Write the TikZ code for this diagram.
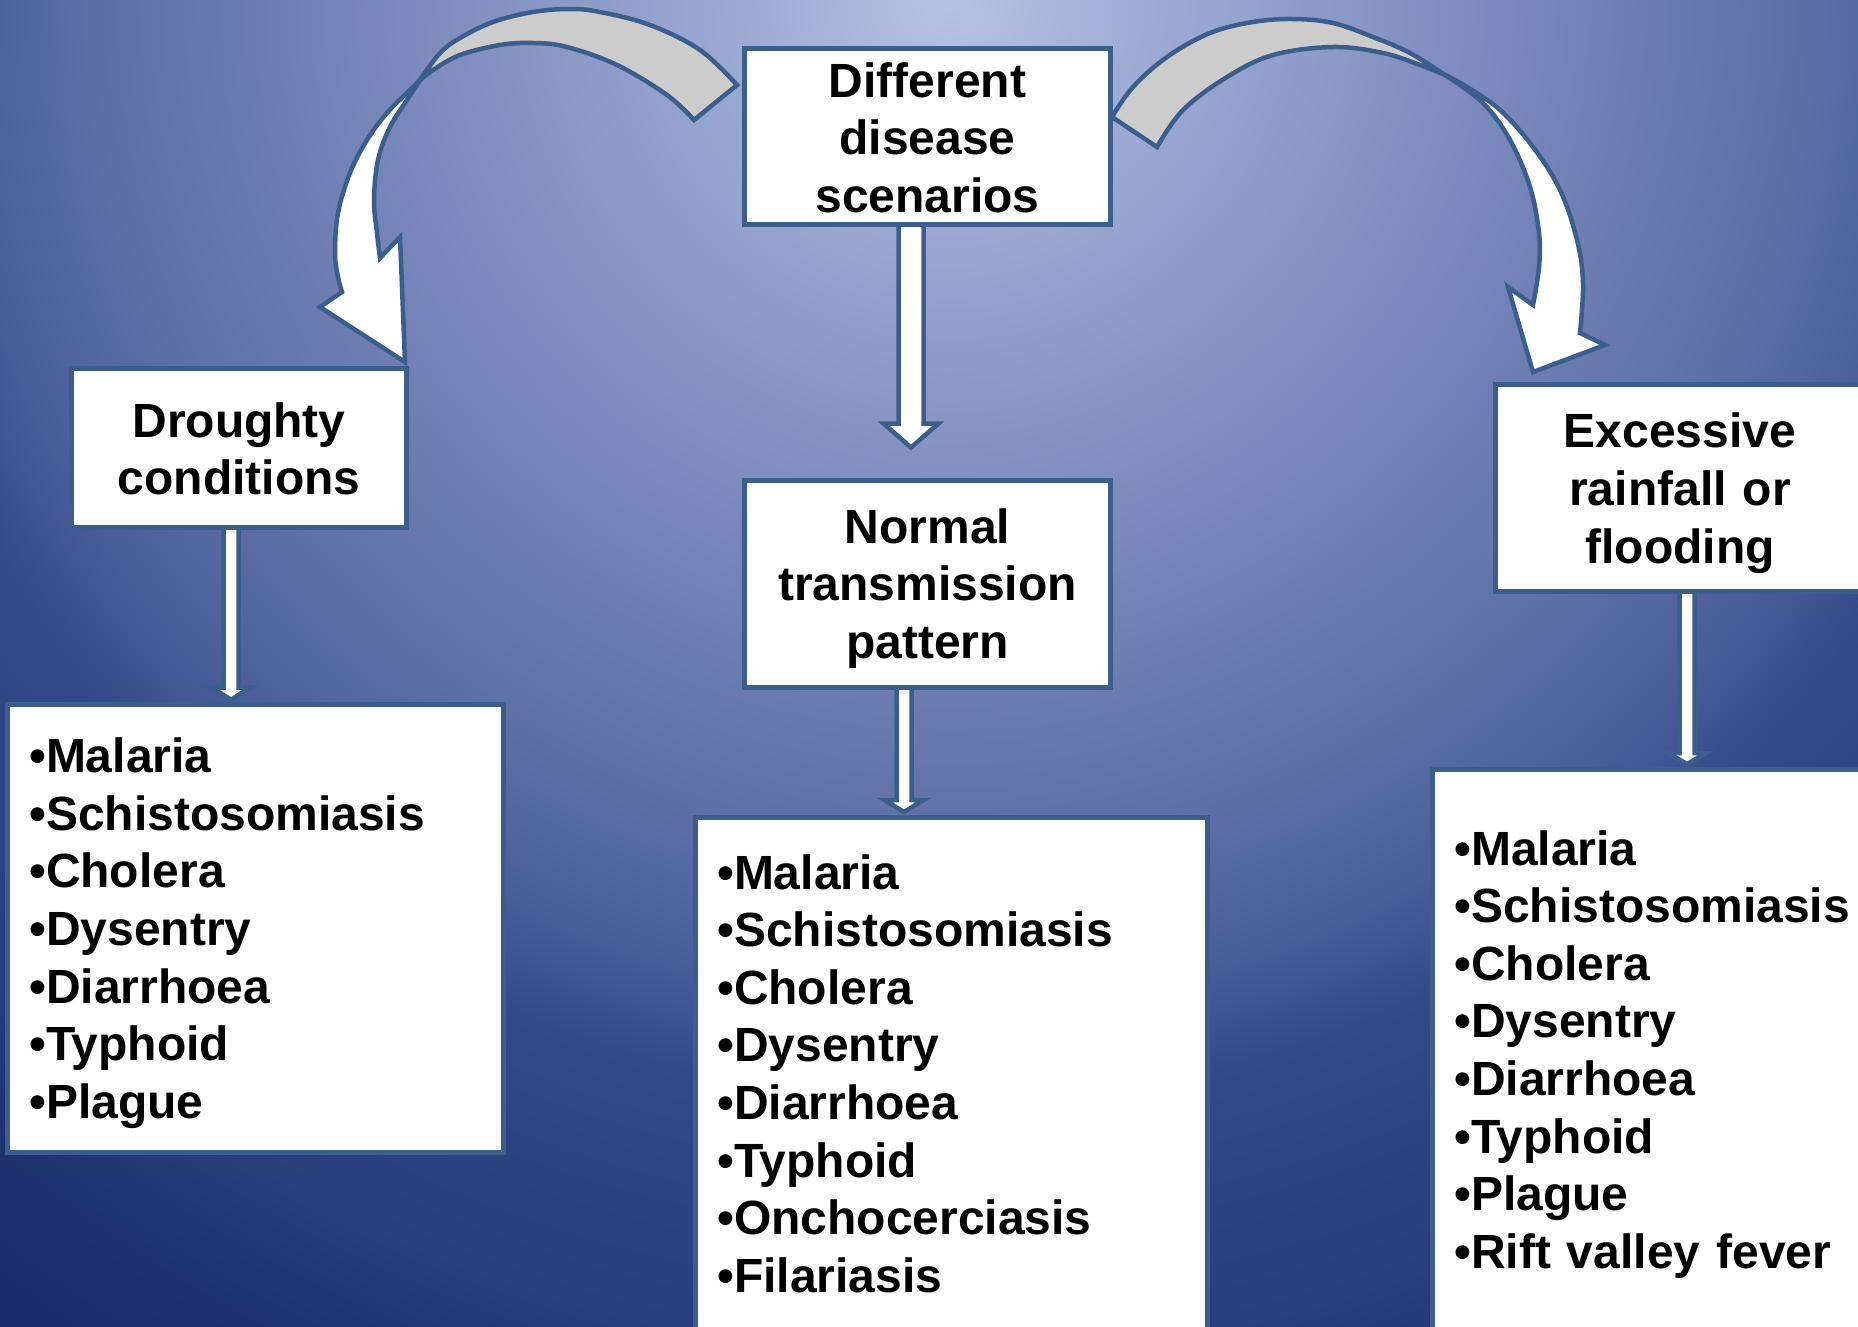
\documentclass[tikz,border=0pt]{standalone}
\usepackage{fontspec}
\setmainfont{Liberation Sans}
\usetikzlibrary{calc}
\definecolor{bgA}{HTML}{B6C3E4}
\definecolor{bgB}{HTML}{9DABD5}
\definecolor{bgC}{HTML}{8593C3}
\definecolor{bgD}{HTML}{7483B7}
\definecolor{bgE}{HTML}{6577AC}
\definecolor{bgF}{HTML}{5D70A6}
\definecolor{bgG}{HTML}{485C98}
\definecolor{bgH}{HTML}{34498A}
\definecolor{bgI}{HTML}{2E4483}
\definecolor{bgJ}{HTML}{2A3E7C}
\definecolor{bgK}{HTML}{1E306E}
\definecolor{bgL}{HTML}{182A68}
\definecolor{edgeblue}{HTML}{3B5E8C}
\definecolor{backgrey}{HTML}{CCCCCC}
\pgfdeclareradialshading{bgshade}{\pgfpoint{0bp}{0bp}}{%
  color(0bp)=(bgA); color(3.03bp)=(bgB); color(6.8bp)=(bgC); color(9.4bp)=(bgD);
  color(11.5bp)=(bgE); color(12.9bp)=(bgF); color(15.2bp)=(bgG); color(16.7bp)=(bgH);
  color(18.2bp)=(bgI); color(20.5bp)=(bgJ); color(22.7bp)=(bgK); color(25bp)=(bgL); color(50bp)=(bgL)}
\pgfdeclarelayer{backdrop}
\pgfdeclarelayer{arrowlayer}
\pgfsetlayers{backdrop,arrowlayer,main}
\newcommand{\blockdown}[5]{%
  \draw[blockarrow] ($(#1)+(-#3,0)$) -- ($(#2)+(-#3,-#5)$) -- ($(#2)+(-#4,-#5)$) -- (#2)
    -- ($(#2)+(#4,-#5)$) -- ($(#2)+(#3,-#5)$) -- ($(#1)+(#3,0)$) -- cycle;}
\begin{document}
\begin{tikzpicture}[x=1pt,y=-1pt,
  titlebox/.style={draw=edgeblue, line width=5pt, fill=white, inner sep=0pt, outer sep=0pt},
  titletext/.style={font=\bfseries\fontsize{48}{57.7}\selectfont, text width=400pt, align=center, inner sep=0pt, anchor=base},
  listbox/.style={draw=edgeblue, line width=5pt, fill=white, inner sep=0pt, outer sep=0pt, anchor=north west},
  listtext/.style={font=\bfseries\fontsize{48}{57.6}\selectfont, text width=470pt, align=left, inner sep=0pt, anchor=base west},
  blockarrow/.style={draw=edgeblue, line width=4.5pt, fill=white, line join=miter},
  backband/.style={draw=edgeblue, line width=4.5pt, fill=backgrey, line join=miter},
  frontband/.style={draw=edgeblue, line width=4.5pt, fill=white, line join=miter}]

% boxes
\node[titlebox, minimum width=366.6pt, minimum height=175.9pt] (top) at (927.5,136.3) {};
\node[titlebox, minimum width=335pt, minimum height=159pt] (drought) at (239,448) {};
\node[titlebox, minimum width=366.6pt, minimum height=207pt] (normal) at (927.5,584) {};
\node[titlebox, minimum width=368.4pt, minimum height=206.7pt] (excess) at (1680,488.3) {};
\node[listbox, minimum width=495.8pt, minimum height=447.8pt] (leftlist) at (7.5,704.7) {};
\node[listbox, minimum width=511.5pt, minimum height=530pt] (midlist) at (695.5,817) {};
\node[listbox, minimum width=440pt, minimum height=575pt] (rightlist) at (1432,769) {};

% texts
\node[titletext] (toptext) at ($(top.north)+(0,48.7)$) {Different\\disease\\scenarios};
\node[titletext] (droughttext) at ($(drought.north)+(0,68.5)$) {Droughty\\conditions};
\node[titletext] (normaltext) at ($(normal.north)+(0,62.5)$) {Normal\\transmission\\pattern};
\node[titletext] (excesstext) at ($(excess.north)+(0,63)$) {Excessive\\rainfall or\\flooding};
\node[listtext] (lefttext) at ($(leftlist.north west)+(21.5,68)$)
  {•Malaria\\•Schistosomiasis\\•Cholera\\•Dysentry\\•Diarrhoea\\•Typhoid\\•Plague};
\node[listtext] (midtext) at ($(midlist.north west)+(21.5,72)$)
  {•Malaria\\•Schistosomiasis\\•Cholera\\•Dysentry\\•Diarrhoea\\•Typhoid\\•Onchocerciasis\\•Filariasis};
\node[listtext] (righttext) at ($(rightlist.north west)+(22,96)$)
  {•Malaria\\•Schistosomiasis\\•Cholera\\•Dysentry\\•Diarrhoea\\•Typhoid\\•Plague\\•Rift valley fever};

% background
\begin{pgfonlayer}{backdrop}
\shade[shading=bgshade] (-700,-1650) rectangle (2600,1650);
\end{pgfonlayer}

% arrows
\begin{pgfonlayer}{arrowlayer}
% left curved arrow
\draw[backband] plot[smooth,tension=0.6] coordinates {(737,85) (700,50) (650,25) (600,12) (570,9) (533,12) (493,22) (460,38) (440,53) (420,80)}
  -- plot[smooth,tension=0.6] coordinates {(420,80) (433,70) (460,55) (500,45) (533,43) (567,47) (617,65) (667,95) (694,120)} -- cycle;
\draw[frontband] plot[smooth,tension=0.6] coordinates {(420,80) (410,90) (387,113) (367,140) (350,173) (338,213) (335,253) (338,277) (342,292)}
  -- (320,307) -- (405,362) -- (400,237)
  -- plot[smooth,tension=0.6] coordinates {(380,258) (377,233) (374,200) (378,160) (390,127) (407,100) (420,80)} -- cycle;
% right curved arrow
\draw[backband] plot[smooth,tension=0.6] coordinates {(1112,117) (1133,87) (1167,57) (1210,33) (1253,22) (1293,19) (1333,23) (1373,37) (1410,53) (1445,75)}
  -- plot[smooth,tension=0.6] coordinates {(1445,75) (1420,65) (1383,53) (1333,47) (1273,55) (1227,77) (1183,110) (1157,147)} -- cycle;
\draw[frontband] plot[smooth,tension=0.6] coordinates {(1445,75) (1467,87) (1500,110) (1533,147) (1560,190) (1577,240) (1583,283) (1580,333)}
  -- (1605,345) -- (1533,372) -- (1508,287)
  -- plot[smooth,tension=0.6] coordinates {(1533,305) (1539,267) (1539,233) (1530,187) (1510,140) (1483,103) (1445,75)} -- cycle;
% straight block arrows
\coordinate (a1s) at ($(drought.south)+(-8,-3)$);
\coordinate (a1e) at ($(a1s |- leftlist.north)+(0,-5)$);
\blockdown{a1s}{a1e}{7.5}{19}{12}
\coordinate (a2s) at ($(top.south)+(-16.5,-3)$);
\coordinate (a2e) at ($(normal.north)+(-16.5,-33)$);
\blockdown{a2s}{a2e}{12.5}{27.5}{24}
\coordinate (a3s) at ($(normal.south)+(-23.5,-3)$);
\coordinate (a3e) at ($(a3s |- midlist.north)+(0,-5)$);
\blockdown{a3s}{a3e}{7.5}{19.5}{12}
\coordinate (a4s) at ($(excess.south)+(7,-3)$);
\coordinate (a4e) at ($(a4s |- rightlist.north)+(0,-5)$);
\blockdown{a4s}{a4e}{7.5}{19}{11}
\end{pgfonlayer}

\pgfresetboundingbox
\path[use as bounding box] (0,0) rectangle (1858,1326);
\end{tikzpicture}
\end{document}
